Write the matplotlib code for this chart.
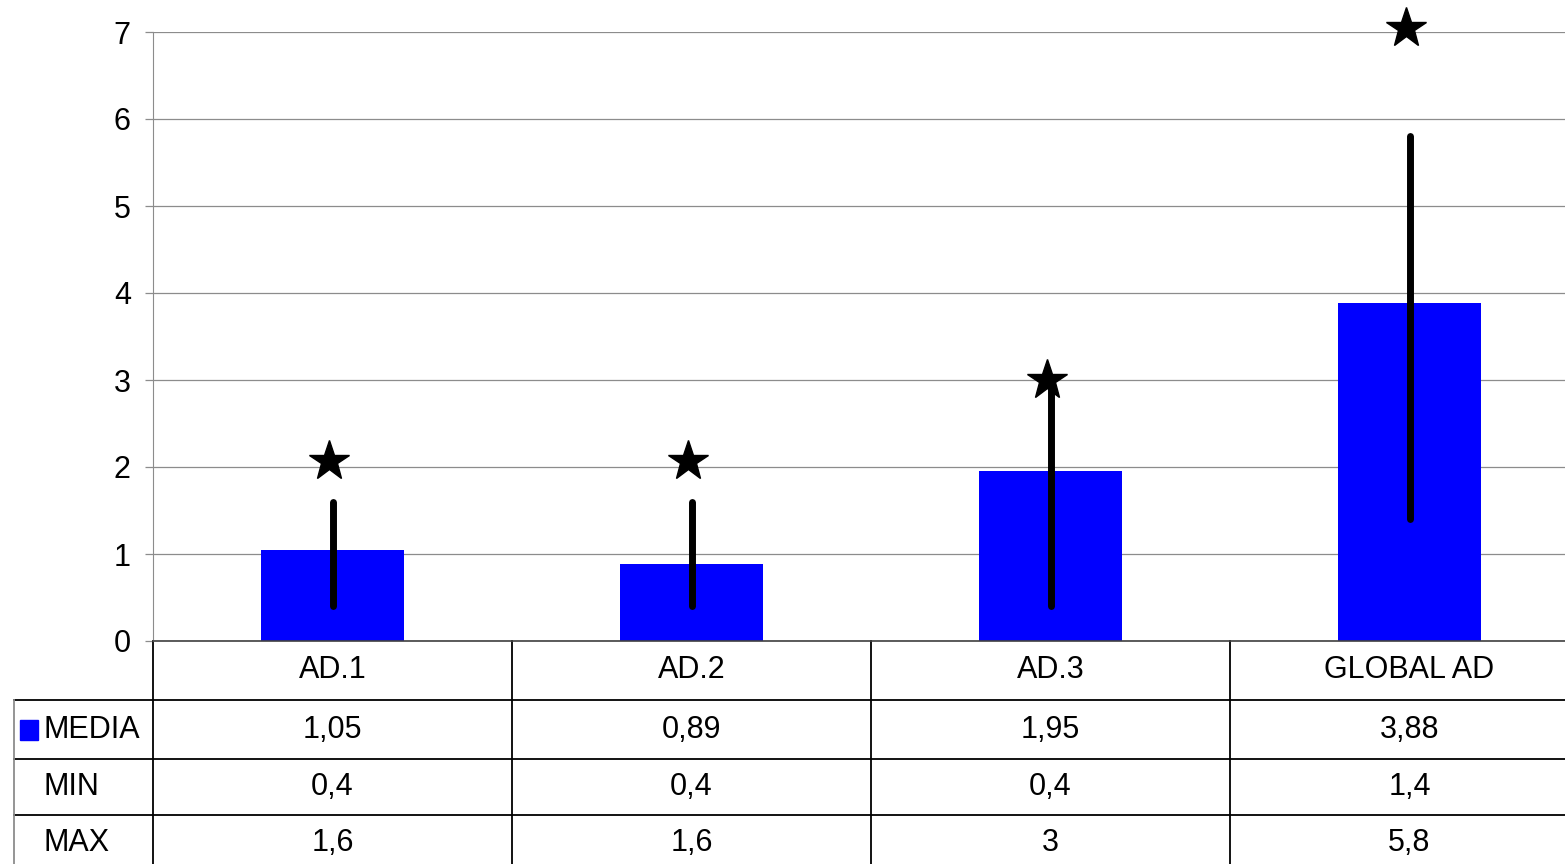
import matplotlib
matplotlib.use('Agg')
import matplotlib.pyplot as plt
import matplotlib.transforms as mtransforms
from matplotlib.patches import Rectangle

plt.rcParams['font.family'] = ['Liberation Sans', 'DejaVu Sans']

categories = ['AD.1', 'AD.2', 'AD.3', 'GLOBAL AD']
media = [1.05, 0.89, 1.95, 3.88]
mins = [0.4, 0.4, 0.4, 1.4]
maxs = [1.6, 1.6, 3.0, 5.8]
stars = [2.07, 2.07, 3.0, 7.05]
media_lbl = ['1,05', '0,89', '1,95', '3,88']
min_lbl = ['0,4', '0,4', '0,4', '1,4']
max_lbl = ['1,6', '1,6', '3', '5,8']

W, H = 1565, 864
fig = plt.figure(figsize=(W / 100, H / 100), dpi=100)
# axes runs a little past the right edge, as in the reference
ax = fig.add_axes([153 / W, 1 - 641 / H, 1436 / W, 609 / H])

x = list(range(len(categories)))
ax.bar(x, media, width=0.4, color='#0000ff', zorder=2)
ax.vlines(x, mins, maxs, color='black', lw=5, zorder=3, capstyle='round')
# stars sit a few pixels left of the lines
star_tr = ax.transData + mtransforms.ScaledTranslation(-4 / 100, 0, fig.dpi_scale_trans)
ax.plot(x, stars, ls='none', marker='*', ms=30, color='black', zorder=4,
        clip_on=False, transform=star_tr)

ax.set_xlim(-0.5, 3.5)
ax.set_ylim(0, 7)
ax.set_yticks(range(8))
ax.set_xticks([])
ax.yaxis.grid(True, color='#8c8c8c', lw=0.9)
ax.set_axisbelow(True)
for s in ['top', 'right']:
    ax.spines[s].set_visible(False)
ax.spines['left'].set_color('#8c8c8c')
ax.spines['bottom'].set_color('#404040')
ax.spines['bottom'].set_linewidth(1.2)
ax.tick_params(axis='y', length=6, width=0.9, color='#8c8c8c', pad=10, labelsize=22)

# data table under the axes
tr = mtransforms.blended_transform_factory(ax.transData, ax.transAxes)
colw = 1436 / 4
rows = [0, -59 / 609, -118 / 609, -174 / 609, -240 / 609]
left_x = -0.5 - 139 / colw
fs = 22
lk = dict(transform=tr, clip_on=False, color='black', lw=1.3)

for xb in [-0.5, 0.5, 1.5, 2.5]:
    ax.plot([xb, xb], [rows[0], rows[4]], **lk)
for r in rows[1:4]:
    ax.plot([left_x, 3.5], [r, r], **lk)
ax.plot([left_x, left_x], [rows[1], rows[4]], transform=tr, clip_on=False, color='#8c8c8c', lw=1.3)

max_y = rows[3] - 28 / 609
for i, c in enumerate(categories):
    ax.text(i, (rows[0] + rows[1]) / 2, c, transform=tr, ha='center', va='center', fontsize=fs)
    ax.text(i, (rows[1] + rows[2]) / 2, media_lbl[i], transform=tr, ha='center', va='center', fontsize=fs)
    ax.text(i, (rows[2] + rows[3]) / 2, min_lbl[i], transform=tr, ha='center', va='center', fontsize=fs)
    ax.text(i, max_y, max_lbl[i], transform=tr, ha='center', va='center', fontsize=fs)

lab_x = -0.5 - 110 / colw
ax.add_patch(Rectangle((-0.5 - 133 / colw, (rows[1] + rows[2]) / 2 - 10 / 609), 18 / colw, 20 / 609,
                       transform=tr, clip_on=False, color='#0000ff'))
ax.text(lab_x, (rows[1] + rows[2]) / 2, 'MEDIA', transform=tr, ha='left', va='center', fontsize=fs)
ax.text(lab_x, (rows[2] + rows[3]) / 2, 'MIN', transform=tr, ha='left', va='center', fontsize=fs)
ax.text(lab_x, max_y, 'MAX', transform=tr, ha='left', va='center', fontsize=fs)

fig.savefig('out.png', dpi=100)
